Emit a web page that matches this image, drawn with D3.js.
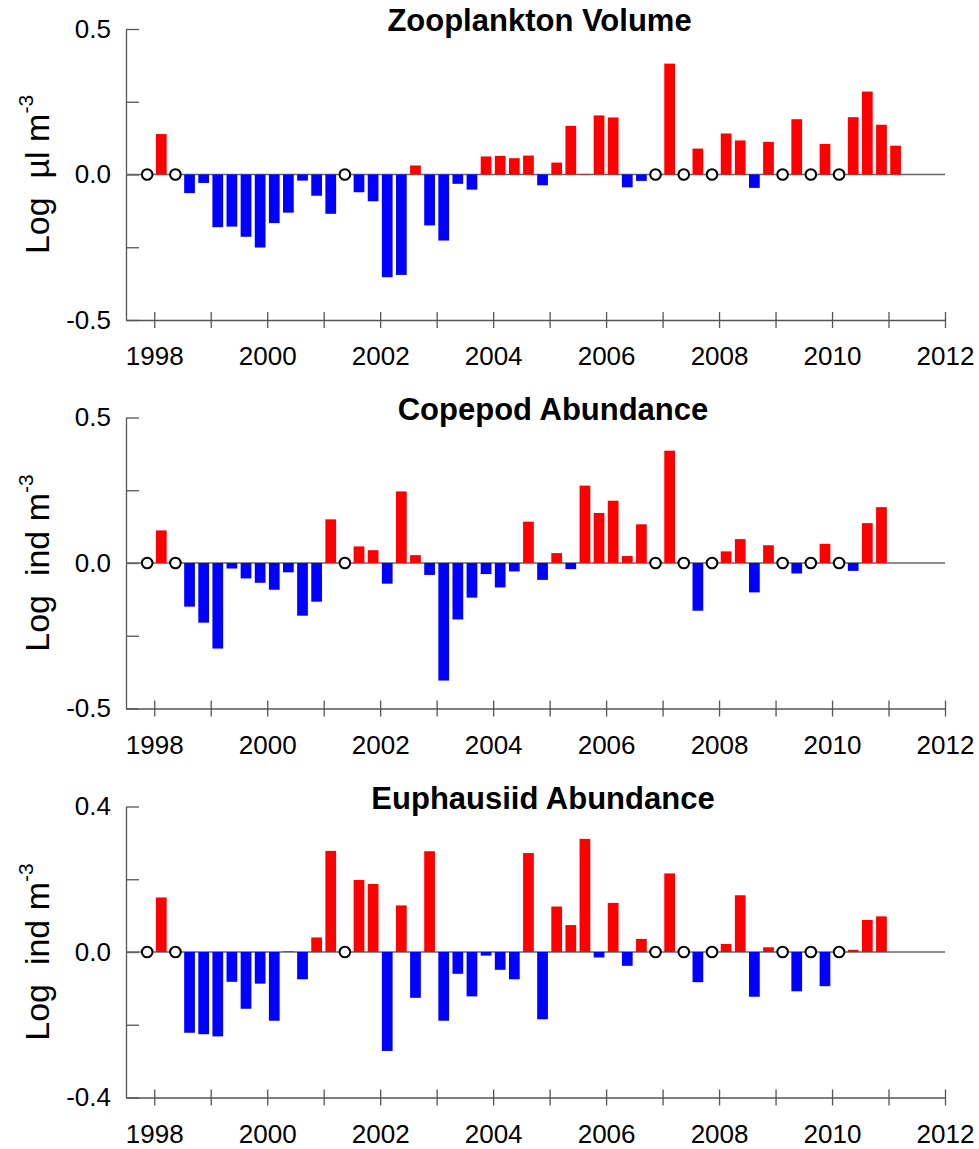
<!DOCTYPE html>
<html lang="en">
<head>
<meta charset="UTF-8">
<title>Zooplankton anomalies</title>
<script src="https://d3js.org/d3.v7.min.js"></script>
<style>
    body { margin: 0; background: #fff; }
    svg { display: block; font-family: "Liberation Sans", Arial, sans-serif; }
    .title { font-weight: bold; font-size: 31px; }
    .ylab { font-size: 34px; }
    .axis text { font-size: 26px; fill: #000; }
    .axis path, .axis line { stroke: #555; stroke-width: 1.3; }
</style>
</head>
<body>
<svg id="chart" width="979" height="1149"></svg>
<script>
// quarters sampled (bar centres sit in the middle of each quarter)
const quarters = [
    "1997Q4",
    "1998Q1", "1998Q2", "1998Q3", "1998Q4",
    "1999Q1", "1999Q2", "1999Q3", "1999Q4",
    "2000Q1", "2000Q2", "2000Q3", "2000Q4",
    "2001Q1", "2001Q2", "2001Q3", "2001Q4",
    "2002Q1", "2002Q2", "2002Q3", "2002Q4",
    "2003Q1", "2003Q2", "2003Q3", "2003Q4",
    "2004Q1", "2004Q2", "2004Q3", "2004Q4",
    "2005Q1", "2005Q2", "2005Q3", "2005Q4",
    "2006Q1", "2006Q2", "2006Q3", "2006Q4",
    "2007Q1", "2007Q2", "2007Q3", "2007Q4",
    "2008Q1", "2008Q2", "2008Q3", "2008Q4",
    "2009Q1", "2009Q2", "2009Q3", "2009Q4",
    "2010Q1", "2010Q2", "2010Q3", "2010Q4",
    "2011Q1"
];

// null = no sample (open circle on the zero line)
const zooplanktonVolume = [
    null, 0.139, null, -0.064, -0.029, -0.181, -0.179, -0.214, -0.251, -0.167,
    -0.131, -0.021, -0.073, -0.135, null, -0.061, -0.092, -0.353, -0.345, 0.031,
    -0.175, -0.227, -0.032, -0.052, 0.062, 0.064, 0.056, 0.065, -0.037, 0.041,
    0.167, 0.002, 0.203, 0.196, -0.044, -0.022, null, 0.381, null, 0.089,
    null, 0.141, 0.117, -0.046, 0.112, null, 0.190, null, 0.105, null,
    0.197, 0.285, 0.171, 0.099
];

const copepodAbundance = [
    null, 0.112, null, -0.150, -0.205, -0.294, -0.019, -0.053, -0.068, -0.092,
    -0.032, -0.181, -0.133, 0.150, null, 0.057, 0.044, -0.071, 0.246, 0.027,
    -0.041, -0.404, -0.194, -0.119, -0.038, -0.084, -0.029, 0.142, -0.058, 0.034,
    -0.021, 0.266, 0.172, 0.214, 0.024, 0.133, null, 0.386, null, -0.164,
    null, 0.040, 0.082, -0.101, 0.061, null, -0.036, null, 0.066, null,
    -0.027, 0.137, 0.192
];

const euphausiidAbundance = [
    null, 0.150, null, -0.222, -0.226, -0.232, -0.082, -0.156, -0.087, -0.189,
    0.002, -0.075, 0.040, 0.278, null, 0.198, 0.187, -0.272, 0.128, -0.126,
    0.277, -0.189, -0.060, -0.122, -0.010, -0.049, -0.075, 0.272, -0.185, 0.125,
    0.074, 0.311, -0.015, 0.135, -0.038, 0.036, null, 0.216, null, -0.083,
    null, 0.022, 0.156, -0.123, 0.013, null, -0.108, null, -0.094, null,
    0.006, 0.088, 0.098
];

const panelTitles = ["Zooplankton Volume", "Copepod Abundance", "Euphausiid Abundance"];
const panelUnits = ["\u00b5l", "ind", "ind"];
const panelSeries = [zooplanktonVolume, copepodAbundance, euphausiidAbundance];
const panelLimits = [0.5, 0.5, 0.4];
const yearTicks = d3.range(1998, 2013);

// layout
const svg = d3.select("#chart");
const plotLeft = 126, plotRight = 945, plotHeight = 291;
const panelTops = [29, 417.5, 806.5];
const titleCentres = [539.5, 553, 543];
const barWidthYears = 0.19;

const x = d3.scaleLinear().domain([1997.5, 2012]).range([plotLeft, plotRight]);

function quarterTime(q) {
    const year = +q.slice(0, 4), k = +q.slice(5);
    return year + (k - 0.5) / 4;
}

const fmt = d3.format(".1f");

panelSeries.forEach((series, p) => {
    const top = panelTops[p];
    const lim = panelLimits[p];
    const y = d3.scaleLinear().domain([-lim, lim]).range([top + plotHeight, top]);
    const g = svg.append("g");

    const rows = series.map((v, i) => ({ t: quarterTime(quarters[i]), v }));

    // y axis, ticks pointing into the plot
    g.append("g")
        .attr("class", "axis")
        .attr("transform", `translate(${plotLeft},0)`)
        .call(d3.axisLeft(y)
            .tickValues([-lim, -lim / 2, 0, lim / 2, lim])
            .tickSize(-13)
            .tickSizeOuter(0)
            .tickPadding(15)
            .tickFormat(d => (Math.abs(d) === lim || d === 0) ? fmt(d).replace("\u2212", "-") : ""));

    // x axis, ticks crossing the line
    const xa = g.append("g")
        .attr("class", "axis")
        .attr("transform", `translate(0,${top + plotHeight})`)
        .call(d3.axisBottom(x)
            .tickValues(yearTicks)
            .tickSize(8)
            .tickSizeOuter(0)
            .tickPadding(19)
            .tickFormat(d => d % 2 === 0 ? d : ""));
    xa.selectAll(".tick line").attr("y1", -8).attr("y2", 8);

    // zero line
    g.append("line")
        .attr("x1", plotLeft).attr("x2", plotRight)
        .attr("y1", y(0)).attr("y2", y(0))
        .attr("stroke", "#666").attr("stroke-width", 1.5);

    const bw = x(1998 + barWidthYears) - x(1998);
    g.selectAll("rect.bar")
        .data(rows.filter(d => d.v !== null))
        .join("rect")
        .attr("class", "bar")
        .attr("x", d => x(d.t) - bw / 2)
        .attr("width", bw)
        .attr("y", d => y(Math.max(d.v, 0)))
        .attr("height", d => Math.abs(y(d.v) - y(0)))
        .attr("fill", d => d.v >= 0 ? "#ff0000" : "#0000ff");

    g.selectAll("circle.gap")
        .data(rows.filter(d => d.v === null))
        .join("circle")
        .attr("class", "gap")
        .attr("cx", d => x(d.t))
        .attr("cy", y(0))
        .attr("r", 5.3)
        .attr("fill", "#fff")
        .attr("stroke", "#000")
        .attr("stroke-width", 2);

    // title
    g.append("text")
        .attr("class", "title")
        .attr("x", titleCentres[p])
        .attr("y", top + 2)
        .attr("text-anchor", "middle")
        .text(panelTitles[p]);

    // y label with superscript
    const lab = g.append("text")
        .attr("class", "ylab")
        .attr("transform", `translate(49,${top + plotHeight / 2}) rotate(-90)`)
        .attr("text-anchor", "middle");
    lab.append("tspan").text("Log\u00a0\u00a0" + panelUnits[p] + " m");
    lab.append("tspan").attr("font-size", 21).attr("dy", -16).text("-3");
});
</script>
</body>
</html>
